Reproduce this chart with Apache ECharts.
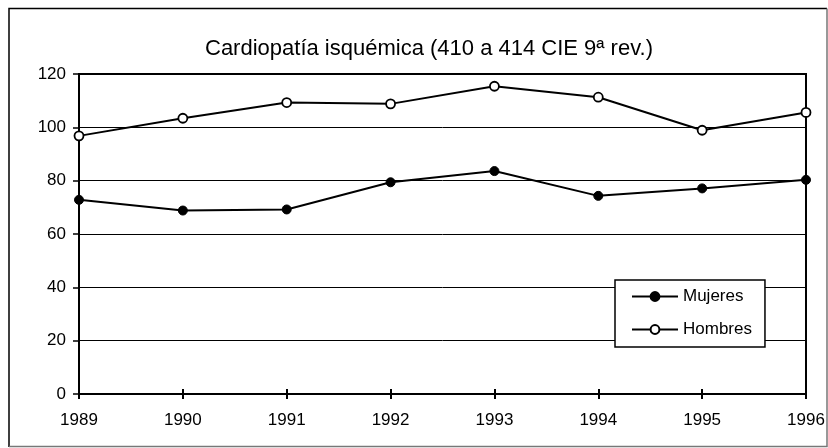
<!DOCTYPE html>
<html>
<head>
<meta charset="utf-8">
<script src="https://cdn.jsdelivr.net/npm/echarts@6/dist/echarts.min.js"></script>
<style>
  html, body { margin: 0; padding: 0; background: #fff; }
  #main { width: 828px; height: 448px; }
</style>
</head>
<body>
<div id="main"></div>
<script>
// datos
var years = ['1989', '1990', '1991', '1992', '1993', '1994', '1995', '1996'];
var mujeres = [72.8, 68.8, 69.2, 79.4, 83.6, 74.3, 77.1, 80.3];
var hombres = [96.8, 103.4, 109.3, 108.8, 115.4, 111.3, 98.9, 105.6];
var yTicks = [0, 20, 40, 60, 80, 100, 120];

var font = 'Liberation Sans, Arial, sans-serif';

var chart = echarts.init(document.getElementById('main'));

var option = {
  backgroundColor: '#fff',
  animation: false,
  title: {
    text: 'Cardiopatía isquémica (410 a 414 CIE 9ª rev.)',
    left: 200,
    top: 33,
    textStyle: { fontFamily: font, fontSize: 22, fontWeight: 'normal', color: '#000' }
  },
  legend: {
    orient: 'vertical',
    left: 615,
    top: 280,
    padding: [8, 13, 9, 16],
    itemGap: 16,
    itemWidth: 46,
    itemHeight: 11,
    backgroundColor: '#fff',
    borderColor: '#000',
    borderWidth: 1.5,
    borderRadius: 0,
    textStyle: { fontFamily: font, fontSize: 17, color: '#000' },
    data: ['Mujeres', 'Hombres']
  },
  grid: {
    left: 79, top: 74, right: 22, bottom: 54,
    show: true, borderColor: '#000', borderWidth: 2
  },
  xAxis: [
    {
      type: 'category',
      data: years,
      boundaryGap: false,
      axisLine: { lineStyle: { color: '#000', width: 2 } },
      axisTick: { show: true, inside: false, length: 5, lineStyle: { color: '#000', width: 2 } },
      axisLabel: { color: '#000', fontFamily: font, fontSize: 17, margin: 18 }
    },
    {
      // segundo eje para las marcas cruzadas
      type: 'category',
      data: years,
      boundaryGap: false,
      position: 'bottom',
      axisLine: { show: false },
      axisTick: { show: true, inside: true, length: 5, lineStyle: { color: '#000', width: 2 } },
      axisLabel: { show: false }
    }
  ],
  yAxis: {
    type: 'value',
    min: yTicks[0],
    max: yTicks[yTicks.length - 1],
    interval: 20,
    axisLine: { show: true, lineStyle: { color: '#000', width: 2 } },
    axisTick: { show: true, length: 6, lineStyle: { color: '#000', width: 1.5 } },
    axisLabel: { color: '#000', fontFamily: font, fontSize: 17, margin: 13 },
    splitLine: { show: true, lineStyle: { color: '#000', width: 1 } }
  },
  series: [
    {
      name: 'Mujeres',
      type: 'line',
      data: mujeres,
      symbol: 'circle',
      symbolSize: 9,
      lineStyle: { color: '#000', width: 2 },
      itemStyle: { color: '#000', borderColor: '#000', borderWidth: 1 }
    },
    {
      name: 'Hombres',
      type: 'line',
      data: hombres,
      symbol: 'circle',
      symbolSize: 9,
      lineStyle: { color: '#000', width: 2 },
      itemStyle: { color: '#fff', borderColor: '#000', borderWidth: 1.8 }
    }
  ],
  graphic: [
    {
      type: 'polyline',
      shape: { points: [[9, 447], [9, 8.5], [827, 8.5]] },
      style: { stroke: '#000', lineWidth: 1.5, fill: null }
    },
    {
      type: 'polyline',
      shape: { points: [[9, 446.5], [827, 446.5], [827, 8.5]] },
      style: { stroke: '#777', lineWidth: 1.5, fill: null }
    }
  ]
};

chart.setOption(option);
</script>
</body>
</html>
